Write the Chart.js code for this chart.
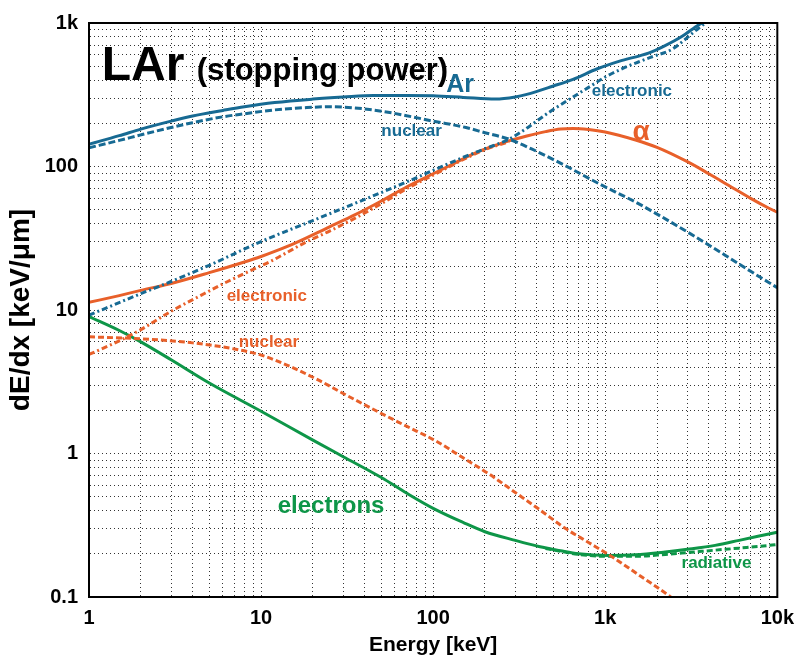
<!DOCTYPE html>
<html><head><meta charset="utf-8">
<script src="https://cdn.jsdelivr.net/npm/chart.js@4.4.1/dist/chart.umd.min.js"></script>
<style>html,body{margin:0;padding:0;background:#fff;}canvas{display:block;}</style>
</head><body>
<canvas id="c" width="803" height="656"></canvas>
<script>
// ---- data (energies in keV, dE/dx in keV/um) ----
const arTotalE = [1, 1.5, 2, 3, 4, 6, 8, 12, 20, 30, 45, 70, 100, 150, 230, 300, 350, 500, 650, 900, 1200, 1800, 2200, 2800, 3500, 4000];
const arTotal  = [143, 164, 182, 207, 225, 246, 261, 279, 295, 305, 313, 313, 311, 303, 295, 305, 318, 364, 405, 480, 540, 620, 690, 808, 973, 1060];

const arNucE = [1, 1.5, 2, 3, 4, 6, 8, 12, 18, 25, 35, 50, 70, 100, 155, 200, 276, 376, 589, 917, 1500, 2000, 3000, 5000, 7000, 10000];
const arNuc  = [135, 152, 166, 187, 202, 222, 233, 248, 257, 261, 256, 243, 226, 207, 187, 172, 155, 132, 101, 76, 56.5, 46.6, 35, 24, 18.6, 14.3];

const arElE = [1, 2, 3, 5, 10, 20, 40, 70, 100, 150, 200, 276, 350, 470, 650, 830, 1000, 1300, 1560, 1900, 2430, 2800, 3500, 4000];
const arEl  = [9.2, 13, 15.8, 20.5, 30, 42, 59, 78, 94, 116, 133, 155, 185, 238, 305, 366, 420, 490, 535, 585, 653, 740, 923, 1040];

const alTotE = [1, 1.5, 2, 3, 5, 8, 10, 12, 16, 25, 35, 50, 70, 100, 130, 170, 220, 276, 350, 450, 550, 650, 800, 1000, 1500, 2000, 3000, 4000, 5200, 7000, 9000, 10000];
const alTot  = [11.3, 12.6, 13.7, 15.3, 18.2, 21.6, 23.6, 25.6, 29.5, 38, 46, 57.5, 72, 89, 104, 122, 138, 151, 163, 175, 182.5, 184, 181, 174, 153, 136, 108, 89, 74, 60, 51, 48];

const alElE = [1, 1.5, 2, 3, 4.5, 6.4, 9, 11.5, 14, 18, 25, 35, 50, 70, 100, 150, 200, 276];
const alEl  = [4.9, 6.1, 7.3, 9.8, 12.7, 15.8, 19.2, 22, 25, 29.5, 35.5, 43.5, 55, 70, 87, 112, 131, 149];

const alNucE = [1, 2, 4, 7, 10, 14, 21, 30, 50, 70, 104, 150, 211, 300, 411, 588, 800, 1100, 1600, 2400, 2600];
const alNuc  = [6.5, 6.3, 5.9, 5.35, 4.85, 4.15, 3.3, 2.62, 1.9, 1.55, 1.22, 0.93, 0.72, 0.535, 0.41, 0.30, 0.24, 0.19, 0.14, 0.1, 0.092];

const elE = [1, 1.5, 2, 3, 5, 10, 20, 30, 50, 70, 100, 150, 200, 300, 411, 550, 700, 1050, 1500, 2230, 3000, 4350, 6000, 9070, 10000];
const el  = [9.0, 7.2, 6.0, 4.5, 3.1, 1.97, 1.24, 0.95, 0.68, 0.53, 0.415, 0.33, 0.285, 0.248, 0.225, 0.21, 0.2, 0.195, 0.197, 0.206, 0.215, 0.229, 0.248, 0.276, 0.283];

const elRadE = [450, 700, 1050, 1500, 2230, 3000, 4350, 6000, 9070, 10000];
const elRad  = [0.218, 0.198, 0.192, 0.192, 0.198, 0.204, 0.212, 0.219, 0.229, 0.232];

const xTickValues = [1, 10, 100, 1000, 10000];
const xTickLabels = ['1', '10', '100', '1k', '10k'];
const yTickValues = [0.1, 1, 10, 100, 1000];
const yTickLabels = ['0.1', '1', '10', '100', '1k'];

const BLUE = '#176a93', ORANGE = '#e8602a', GREEN = '#0e9648';
const FONT = '"Liberation Sans", Arial, Helvetica, sans-serif';

// text labels placed in data coordinates
const labels = [
  {text: 'LAr', x: 1.185, y: 403, color: '#000', size: 48},
  {text: '(stopping power)', x: 4.23, y: 403, color: '#000', size: 31},
  {text: 'Ar', x: 119, y: 333, color: BLUE, size: 25},
  {text: 'electronic', x: 835, y: 312, color: BLUE, size: 17},
  {text: 'nuclear', x: 50, y: 162, color: BLUE, size: 17},
  {text: 'α', x: 1440, y: 154, color: ORANGE, size: 28},
  {text: 'electronic', x: 6.31, y: 11.6, color: ORANGE, size: 17},
  {text: 'nuclear', x: 7.41, y: 5.5, color: ORANGE, size: 17},
  {text: 'electrons', x: 12.5, y: 0.382, color: GREEN, size: 24},
  {text: 'radiative', x: 2776, y: 0.159, color: GREEN, size: 17}
];

function pts(xs, ys) { return xs.map((x, i) => ({x: x, y: ys[i]})); }
function gridTicks(min, max) {
  const out = [];
  for (let e = Math.round(Math.log10(min)); e < Math.round(Math.log10(max)); e++) {
    for (let m = 1; m < 10; m++) out.push(+(m * Math.pow(10, e)).toPrecision(6));
  }
  out.push(max);
  return out.map(v => ({value: v}));
}
function labelFor(vals, labs) {
  return function (value) {
    for (let i = 0; i < vals.length; i++) {
      if (Math.abs(value - vals[i]) / vals[i] < 1e-6) return labs[i];
    }
    return '';
  };
}

const framePlugin = {
  id: 'frameAndTexts',
  afterDatasetsDraw(chart) {
    const {ctx, chartArea, scales} = chart;
    ctx.save();
    ctx.lineWidth = 2;
    ctx.strokeStyle = '#000';
    ctx.strokeRect(chartArea.left, chartArea.top, chartArea.right - chartArea.left, chartArea.bottom - chartArea.top);
    for (const a of labels) {
      ctx.font = 'bold ' + a.size + 'px ' + FONT;
      ctx.fillStyle = a.color;
      ctx.textAlign = 'left';
      ctx.textBaseline = 'alphabetic';
      ctx.fillText(a.text, scales.x.getPixelForValue(a.x), scales.y.getPixelForValue(a.y));
    }
    ctx.restore();
  }
};

const common = {pointRadius: 0, pointHoverRadius: 0, fill: false, cubicInterpolationMode: 'monotone', borderWidth: 3};

new Chart(document.getElementById('c'), {
  type: 'line',
  data: {
    datasets: [
      Object.assign({label: 'Ar nuclear', data: pts(arNucE, arNuc), borderColor: BLUE, borderDash: [7, 3]}, common),
      Object.assign({label: 'Ar electronic', data: pts(arElE, arEl), borderColor: BLUE, borderDash: [6, 3, 2, 3]}, common),
      Object.assign({label: 'alpha nuclear', data: pts(alNucE, alNuc), borderColor: ORANGE, borderDash: [6, 3]}, common),
      Object.assign({label: 'alpha electronic', data: pts(alElE, alEl), borderColor: ORANGE, borderDash: [6, 3, 2, 3]}, common),
      Object.assign({label: 'electrons radiative', data: pts(elRadE, elRad), borderColor: GREEN, borderDash: [6, 3]}, common),
      Object.assign({label: 'Ar', data: pts(arTotalE, arTotal), borderColor: BLUE}, common),
      Object.assign({label: 'alpha', data: pts(alTotE, alTot), borderColor: ORANGE}, common),
      Object.assign({label: 'electrons', data: pts(elE, el), borderColor: GREEN}, common)
    ]
  },
  options: {
    responsive: false,
    animation: false,
    devicePixelRatio: 1,
    layout: {padding: {left: 0, right: 24, top: 20, bottom: 0}},
    plugins: {legend: {display: false}, tooltip: {enabled: false}},
    scales: {
      x: {
        type: 'logarithmic', min: 1, max: 10000,
        afterBuildTicks: s => { s.ticks = gridTicks(1, 10000); },
        afterFit: s => { s.height = 59; },
        ticks: {autoSkip: false, maxRotation: 0, padding: 9, color: '#000',
                font: {family: FONT, size: 20, weight: 'bold'},
                callback: labelFor(xTickValues, xTickLabels)},
        grid: {color: '#333', lineWidth: 1, drawTicks: false},
        border: {display: true, color: '#000', width: 2, dash: [1, 3]},
        title: {display: true, text: 'Energy [keV]', color: '#000',
                font: {family: FONT, size: 21, weight: 'bold', lineHeight: 1},
                padding: {top: 0, bottom: 0}}
      },
      y: {
        type: 'logarithmic', min: 0.1, max: 1000,
        afterBuildTicks: s => { s.ticks = gridTicks(0.1, 1000); },
        afterFit: s => { s.width = 89; },
        ticks: {autoSkip: false, padding: 11, color: '#000',
                font: {family: FONT, size: 20, weight: 'bold'},
                callback: labelFor(yTickValues, yTickLabels)},
        grid: {color: '#333', lineWidth: 1, drawTicks: false},
        border: {display: true, color: '#000', width: 2, dash: [1, 3]},
        title: {display: true, text: 'dE/dx [keV/μm]', color: '#000',
                font: {family: FONT, size: 28, weight: 'bold', lineHeight: 1},
                padding: {top: 7, bottom: 0}}
      }
    }
  },
  plugins: [framePlugin]
});
</script>
</body></html>
